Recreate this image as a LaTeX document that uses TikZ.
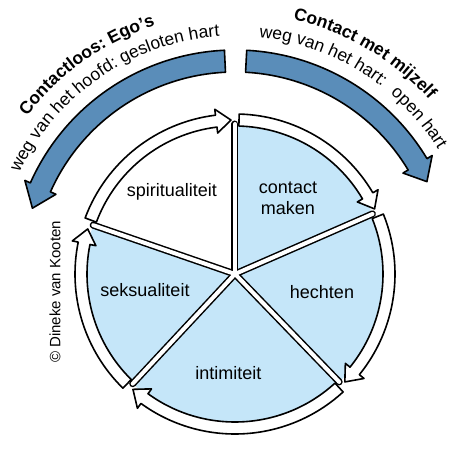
\documentclass[tikz,border=0pt]{standalone}
\usepackage{fontspec}
\setmainfont{Liberation Sans}
\usetikzlibrary{decorations.text}

\definecolor{wheelblue}{HTML}{C5E6F9}
\definecolor{bandblue}{HTML}{5A8DB9}

% curved arrow: style, tail angle, head base angle, tip angle, inner radius, outer radius
\newcommand{\curvedarrow}[6]{%
  \pgfmathsetmacro{\rtip}{(#5+#6)/2}
  \pgfmathsetmacro{\rwin}{#5-6}
  \pgfmathsetmacro{\rwout}{#6+6}
  \draw[#1] (#2:#6pt) arc[start angle=#2, end angle=#3, radius=#6pt]
    -- (#3:\rwout pt) -- (#4:\rtip pt) -- (#3:\rwin pt) -- (#3:#5pt)
    arc[start angle=#3, end angle=#2, radius=#5pt] -- cycle;}

\begin{document}
\begin{tikzpicture}[x=1pt, y=1pt]
  \tikzstyle{ring} = [draw, fill=white, line width=1.6pt, line join=round]
  \tikzstyle{band} = [draw, fill=bandblue, line width=1.6pt, line join=round]
  \tikzstyle{wedgetext} = [font=\fontsize{18}{21}\selectfont, align=center]
  \tikzstyle{arctext} = [decorate, decoration={text along path, text align=center}]

  \useasboundingbox (-235,-179) rectangle (216,274);

  % Define nodes
  \coordinate (hub) at (0,0);
  \foreach \a [count=\i] in {90, 23.6, -46, -133, 161}
    \coordinate (s\i) at (\a:150pt);

  % wedges
  \foreach \a/\b/\c in {161/90/white, 90/23.6/wheelblue, 23.6/-46/wheelblue,
                        -46/-133/wheelblue, -133/-199/wheelblue}
    \fill[\c] (hub) -- (\a:150pt) arc[start angle=\a, end angle=\b, radius=150pt] -- cycle;

  % spokes
  \foreach \i in {1,...,5}
    \draw[line width=7pt, line cap=round] (hub) -- (s\i);
  \foreach \i in {1,...,5}
    \draw[white, line width=4pt, line cap=round] (hub) -- (s\i);

  % arrows round the wheel
  \curvedarrow{ring}{159.5}{97}{91.5}{148}{160}
  \curvedarrow{ring}{88.5}{30.5}{25}{148}{160}
  \curvedarrow{ring}{22}{-39}{-44.5}{148}{160}
  \curvedarrow{ring}{-47.5}{-126}{-131.5}{148}{160}
  \curvedarrow{ring}{-134.5}{-191.5}{-197}{148}{160}

  % big arrows
  \curvedarrow{band}{92.7}{156}{162}{202}{224}
  \curvedarrow{band}{87}{31}{25.7}{202}{224}

  \node[wedgetext] (spirit) at (-63,82) {spiritualiteit};
  \node[wedgetext] (contact) at (53,76) {contact\\maken};
  \node[wedgetext] (sex) at (-90,-16) {seksualiteit};
  \node[wedgetext] (hecht) at (87,-18) {hechten};
  \node[wedgetext] (intim) at (-6.5,-99) {intimiteit};
  \node[font=\fontsize{15}{17}\selectfont, rotate=90] (copy) at (-180,-18) {© Dineke van Kooten};

  % texts along the big arrows
  \path[arctext, decoration={text={|\fontsize{17.5}{20}\selectfont|weg van het hoofd: gesloten hart}}]
    (160:238pt) arc[start angle=160, end angle=88.6, radius=238pt];
  \path[arctext, decoration={text={|\fontsize{17.5}{20}\selectfont\bfseries|Contactloos: Ego’s}}]
    (160:261pt) arc[start angle=160, end angle=90.6, radius=261pt];
  \path[arctext, decoration={text={|\fontsize{17.5}{20}\selectfont|weg van het hart:{\kern6pt} open hart}}]
    (88:238pt) arc[start angle=88, end angle=27.6, radius=238pt];
  \path[arctext, decoration={text={|\fontsize{17.5}{20}\selectfont\bfseries|Contact met mijzelf}}]
    (90:261pt) arc[start angle=90, end angle=29, radius=261pt];
\end{tikzpicture}
\end{document}
